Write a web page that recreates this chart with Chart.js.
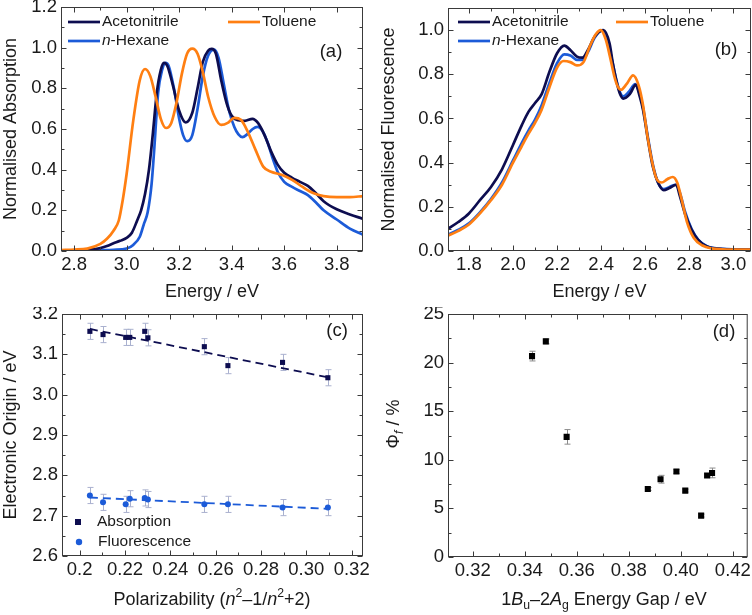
<!DOCTYPE html>
<html>
<head>
<meta charset="utf-8">
<title>Absorption / fluorescence panels</title>
<script src="https://cdn.jsdelivr.net/npm/chart.js@4.4.1/dist/chart.umd.min.js"></script>
<style>
    html, body { margin: 0; padding: 0; background: #ffffff; }
    #figure { position: relative; width: 752px; height: 615px; overflow: hidden; }
    #figure canvas { position: absolute; }
</style>
</head>
<body>
<div id="figure">
    <canvas id="chartA" width="376" height="307" style="left:0;top:0"></canvas>
    <canvas id="chartB" width="376" height="307" style="left:376px;top:0"></canvas>
    <canvas id="chartC" width="376" height="308" style="left:0;top:307px"></canvas>
    <canvas id="chartD" width="376" height="308" style="left:376px;top:307px"></canvas>
</div>
<script>
// ==============================
//  DATA
// ==============================

// (a) normalised absorption
const acnAbsE = [2.75, 2.8, 2.85, 2.9, 2.925, 2.95, 2.975, 3.0, 3.02, 3.04, 3.055, 3.07, 3.085, 3.1, 3.115, 3.13, 3.142, 3.155, 3.175, 3.2, 3.225, 3.25, 3.27, 3.29, 3.31, 3.324, 3.34, 3.36, 3.38, 3.4, 3.425, 3.45, 3.479, 3.5, 3.525, 3.55, 3.575, 3.6, 3.63, 3.66, 3.69, 3.72, 3.75, 3.8, 3.85, 3.9];
const acnAbs = [0.0, 0.002, 0.006, 0.015, 0.025, 0.038, 0.05, 0.065, 0.09, 0.15, 0.2, 0.28, 0.4, 0.58, 0.78, 0.89, 0.925, 0.91, 0.82, 0.69, 0.632, 0.68, 0.8, 0.93, 0.985, 0.994, 0.97, 0.84, 0.73, 0.665, 0.643, 0.64, 0.65, 0.63, 0.57, 0.49, 0.425, 0.385, 0.36, 0.34, 0.32, 0.285, 0.245, 0.205, 0.18, 0.158];

const hexAbsE = [2.75, 2.85, 2.9, 2.95, 3.0, 3.025, 3.05, 3.065, 3.08, 3.095, 3.105, 3.12, 3.135, 3.148, 3.16, 3.18, 3.2, 3.215, 3.231, 3.25, 3.27, 3.29, 3.31, 3.333, 3.35, 3.37, 3.39, 3.41, 3.425, 3.441, 3.46, 3.48, 3.498, 3.515, 3.535, 3.555, 3.575, 3.6, 3.63, 3.66, 3.69, 3.72, 3.75, 3.8, 3.85, 3.9];
const hexAbs = [0.0, 0.002, 0.004, 0.006, 0.012, 0.03, 0.07, 0.13, 0.19, 0.33, 0.5, 0.78, 0.89, 0.925, 0.91, 0.8, 0.65, 0.57, 0.54, 0.57, 0.7, 0.86, 0.96, 0.99, 0.95, 0.82, 0.69, 0.61, 0.575, 0.56, 0.575, 0.6, 0.61, 0.595, 0.54, 0.46, 0.39, 0.34, 0.315, 0.295, 0.275, 0.24, 0.2, 0.155, 0.11, 0.08];

const tolAbsE = [2.75, 2.8, 2.85, 2.9, 2.925, 2.95, 2.97, 2.985, 3.0, 3.025, 3.05, 3.07, 3.09, 3.11, 3.13, 3.15, 3.17, 3.19, 3.21, 3.23, 3.25, 3.27, 3.29, 3.31, 3.335, 3.36, 3.385, 3.41, 3.435, 3.46, 3.49, 3.52, 3.55, 3.59, 3.63, 3.67, 3.71, 3.75, 3.8, 3.85, 3.9];
const tolAbs = [0.005, 0.007, 0.012, 0.035, 0.06, 0.1, 0.15, 0.25, 0.38, 0.64, 0.84, 0.895, 0.86, 0.76, 0.65, 0.605, 0.63, 0.73, 0.87, 0.97, 0.995, 0.97, 0.88, 0.76, 0.66, 0.62, 0.63, 0.655, 0.645, 0.59, 0.5, 0.415, 0.39, 0.375, 0.35, 0.315, 0.285, 0.27, 0.265, 0.265, 0.27];

// (b) normalised fluorescence
const acnFlE = [1.7, 1.75, 1.8, 1.85, 1.9, 1.95, 2.0, 2.04, 2.07, 2.1, 2.13, 2.165, 2.2, 2.233, 2.26, 2.29, 2.315, 2.34, 2.37, 2.41, 2.438, 2.453, 2.468, 2.484, 2.5, 2.53, 2.557, 2.575, 2.59, 2.613, 2.635, 2.658, 2.684, 2.71, 2.74, 2.757, 2.78, 2.81, 2.84, 2.88, 2.95, 3.1];
const acnFl = [0.097, 0.13, 0.17, 0.23, 0.29, 0.37, 0.48, 0.57, 0.63, 0.67, 0.71, 0.81, 0.895, 0.93, 0.91, 0.88, 0.875, 0.91, 0.97, 1.0, 0.94, 0.85, 0.775, 0.715, 0.69, 0.71, 0.752, 0.7, 0.64, 0.5, 0.38, 0.31, 0.275, 0.285, 0.3, 0.25, 0.17, 0.097, 0.05, 0.02, 0.009, 0.006];

const hexFlE = [1.7, 1.75, 1.8, 1.85, 1.9, 1.95, 2.0, 2.04, 2.07, 2.1, 2.13, 2.165, 2.2, 2.233, 2.26, 2.29, 2.315, 2.34, 2.37, 2.405, 2.43, 2.45, 2.47, 2.485, 2.5, 2.525, 2.555, 2.575, 2.59, 2.613, 2.635, 2.658, 2.684, 2.71, 2.74, 2.76, 2.78, 2.81, 2.84, 2.88, 2.95, 3.1];
const hexFl = [0.072, 0.095, 0.125, 0.175, 0.235, 0.31, 0.41, 0.49, 0.545, 0.595, 0.66, 0.76, 0.85, 0.89, 0.885, 0.865, 0.865, 0.9, 0.965, 1.0, 0.95, 0.86, 0.77, 0.72, 0.7, 0.72, 0.755, 0.71, 0.65, 0.51, 0.39, 0.31, 0.28, 0.29, 0.3, 0.255, 0.18, 0.1, 0.052, 0.022, 0.01, 0.007];

const tolFlE = [1.7, 1.75, 1.8, 1.85, 1.9, 1.95, 2.0, 2.04, 2.07, 2.1, 2.13, 2.165, 2.2, 2.23, 2.26, 2.29, 2.32, 2.35, 2.375, 2.398, 2.42, 2.44, 2.46, 2.475, 2.49, 2.515, 2.545, 2.57, 2.59, 2.61, 2.63, 2.65, 2.675, 2.7, 2.725, 2.745, 2.765, 2.79, 2.82, 2.86, 2.9, 2.95, 3.1];
const tolFl = [0.067, 0.09, 0.12, 0.17, 0.23, 0.3, 0.4, 0.475, 0.53, 0.58, 0.64, 0.74, 0.83, 0.86, 0.855, 0.84, 0.855, 0.93, 0.98, 1.0, 0.96, 0.88, 0.79, 0.745, 0.73, 0.755, 0.795, 0.75, 0.66, 0.52, 0.41, 0.33, 0.31, 0.325, 0.335, 0.31, 0.235, 0.13, 0.06, 0.025, 0.012, 0.008, 0.006];

// (c) electronic origin versus solvent polarizability
const polX = [0.2045, 0.2103, 0.2203, 0.2221, 0.2287, 0.2301, 0.255, 0.2654, 0.2895, 0.3095];
const originAbs = [3.157, 3.149, 3.142, 3.142, 3.157, 3.141, 3.119, 3.072, 3.08, 3.042];
const originFlu = [2.75, 2.733, 2.728, 2.742, 2.744, 2.74, 2.728, 2.728, 2.72, 2.72];
const originAbsErr = [0.02, 0.02, 0.02, 0.02, 0.02, 0.02, 0.02, 0.02, 0.02, 0.02];
const originFluErr = [0.02, 0.02, 0.02, 0.02, 0.02, 0.02, 0.02, 0.02, 0.02, 0.02];
const fitX = [0.2045, 0.3095];
const fitAbs = [3.163, 3.043];
const fitFlu = [2.745, 2.717];

// (d) fluorescence quantum yield versus 1Bu-2Ag gap
const gapX = [0.3428, 0.3481, 0.3561, 0.3873, 0.3922, 0.3983, 0.4017, 0.4078, 0.4101, 0.412];
const phiF = [20.67, 22.18, 12.36, 7.0, 8.0, 8.79, 6.83, 4.26, 8.38, 8.65];
const phiErr = [0.5, 0.25, 0.75, 0.15, 0.4, 0.2, 0.15, 0.15, 0.15, 0.5];

// tick values and labels
const xTicksA = [2.8, 3.0, 3.2, 3.4, 3.6, 3.8];
const xLabelsA = ["2.8", "3.0", "3.2", "3.4", "3.6", "3.8"];
const yTicksA = [0, 0.2, 0.4, 0.6, 0.8, 1.0, 1.2];
const yLabelsA = ["0.0", "0.2", "0.4", "0.6", "0.8", "1.0", "1.2"];
const xTicksB = [1.8, 2.0, 2.2, 2.4, 2.6, 2.8, 3.0];
const xLabelsB = ["1.8", "2.0", "2.2", "2.4", "2.6", "2.8", "3.0"];
const yTicksB = [0, 0.2, 0.4, 0.6, 0.8, 1.0];
const yLabelsB = ["0.0", "0.2", "0.4", "0.6", "0.8", "1.0"];
const xTicksC = [0.2, 0.22, 0.24, 0.26, 0.28, 0.3, 0.32];
const xLabelsC = ["0.2", "0.22", "0.24", "0.26", "0.28", "0.30", "0.32"];
const yTicksC = [2.6, 2.7, 2.8, 2.9, 3.0, 3.1, 3.2];
const yLabelsC = ["2.6", "2.7", "2.8", "2.9", "3.0", "3.1", "3.2"];
const xTicksD = [0.32, 0.34, 0.36, 0.38, 0.4, 0.42];
const xLabelsD = ["0.32", "0.34", "0.36", "0.38", "0.40", "0.42"];
const yTicksD = [0, 5, 10, 15, 20, 25];
const yLabelsD = ["0", "5", "10", "15", "20", "25"];

// ==============================
//  STYLE
// ==============================

const FONT = "'Liberation Sans', Arial, Helvetica, sans-serif";
const INK = "#1a1a1a";
const FRAME = "#3a3a3a";
const NAVY = "#0d0d50";
const BLUE = "#1c5bd8";
const ORANGE = "#ff7f12";

// ==============================
//  HELPERS
// ==============================

function pts(xs, ys) {
    return xs.map((x, i) => ({ x: x, y: ys[i] }));
}

// draws a run list (italic / sub / sup pieces) centred or left-aligned
function drawRuns(ctx, runs, x, y, size, align, rotate) {
    ctx.save();
    ctx.translate(x, y);
    if (rotate) ctx.rotate(-Math.PI / 2);
    ctx.fillStyle = INK;
    ctx.textBaseline = "middle";
    ctx.textAlign = "left";
    const fontOf = r => (r.i ? "italic " : "") + ((r.sub || r.sup) ? size * 0.68 : size) + "px " + FONT;
    let total = 0;
    runs.forEach(r => { ctx.font = fontOf(r); total += ctx.measureText(r.t).width; });
    let cx = align === "center" ? -total / 2 : 0;
    runs.forEach(r => {
        ctx.font = fontOf(r);
        const dy = r.sup ? -size * 0.36 : (r.sub ? size * 0.3 : 0);
        ctx.fillText(r.t, cx, dy);
        cx += ctx.measureText(r.t).width;
    });
    ctx.restore();
}

function minorOf(ticks, min, max) {
    const step = ticks[1] - ticks[0];
    const out = [];
    for (let i = -1; i < ticks.length; i++) {
        const v = ticks[0] + (i + 0.5) * step;
        if (v > min + step * 0.05 && v < max - step * 0.05) out.push(v);
    }
    return out;
}

// inward major / minor ticks on all four sides, plus the box
const framePlugin = {
    id: "frame",
    afterDatasetsDraw(chart) {
        const { ctx, chartArea: a, scales } = chart;
        const sx = scales.x, sy = scales.y;
        ctx.save();
        ctx.strokeStyle = FRAME;
        ctx.lineWidth = 1;
        const L = a.left + 0.5, R = a.right - 0.5, T = a.top + 0.5, B = a.bottom - 0.5;
        ctx.strokeRect(L, T, R - L, B - T);
        ctx.beginPath();
        const xt = sx.options.majorTicks, yt = sy.options.majorTicks;
        const mark = (list, len, horiz) => list.forEach(v => {
            if (horiz) {
                const p = Math.round(sx.getPixelForValue(v)) + 0.5;
                ctx.moveTo(p, B); ctx.lineTo(p, B - len);
                ctx.moveTo(p, T); ctx.lineTo(p, T + len);
            } else {
                const p = Math.round(sy.getPixelForValue(v)) + 0.5;
                ctx.moveTo(L, p); ctx.lineTo(L + len, p);
                ctx.moveTo(R, p); ctx.lineTo(R - len, p);
            }
        });
        mark(xt, 5, true);
        mark(minorOf(xt, sx.min, sx.max), 3, true);
        mark(yt, 5, false);
        mark(minorOf(yt, sy.min, sy.max), 3, false);
        ctx.stroke();
        ctx.restore();
    }
};

// vertical error bars from dataset.yErr
const errorBarPlugin = {
    id: "errorBars",
    beforeDatasetsDraw(chart) {
        const { ctx, scales } = chart;
        chart.data.datasets.forEach((ds, i) => {
            if (!ds.yErr) return;
            const meta = chart.getDatasetMeta(i);
            ctx.save();
            ctx.strokeStyle = ds.errColor;
            ctx.lineWidth = 1;
            ctx.beginPath();
            meta.data.forEach((pt, j) => {
                const v = ds.data[j].y;
                const top = scales.y.getPixelForValue(v + ds.yErr[j]);
                const bot = scales.y.getPixelForValue(v - ds.yErr[j]);
                const x = Math.round(pt.x) + 0.5;
                ctx.moveTo(x, top); ctx.lineTo(x, bot);
                ctx.moveTo(x - 3, top); ctx.lineTo(x + 3, top);
                ctx.moveTo(x - 3, bot); ctx.lineTo(x + 3, bot);
            });
            ctx.stroke();
            ctx.restore();
        });
    }
};

// panel letter, legend entries and rich-text axis titles
const decorPlugin = {
    id: "decor",
    afterDraw(chart, args, opts) {
        const ctx = chart.ctx;
        if (opts.tag) drawRuns(ctx, [{ t: opts.tag[0] }], opts.tag[1], opts.tag[2], 18.5, "center");
        (opts.legend || []).forEach(item => {
            ctx.save();
            if (item.kind === "line") {
                ctx.strokeStyle = item.color;
                ctx.lineWidth = 2.7;
                ctx.beginPath();
                ctx.moveTo(item.x, item.y);
                ctx.lineTo(item.x + 32, item.y);
                ctx.stroke();
                drawRuns(ctx, item.runs, item.x + 34, item.y, 15.5, "left");
            } else {
                ctx.fillStyle = item.color;
                if (item.kind === "rect") {
                    ctx.fillRect(item.x - 3, item.y - 3, 6, 6);
                } else {
                    ctx.beginPath();
                    ctx.arc(item.x, item.y, 3.2, 0, Math.PI * 2);
                    ctx.fill();
                }
                drawRuns(ctx, item.runs, item.x + 19, item.y, 15.5, "left");
            }
            ctx.restore();
        });
        (opts.titles || []).forEach(t => drawRuns(ctx, t.runs, t.x, t.y, 18, "center", t.rotate));
    }
};

/**
 * Builds a linear axis whose box size is fixed so the plot area lands
 * where it is in the figure.
 */
function makeAxis(dir, min, max, ticks, labels, size, title, titlePad) {
    return {
        type: "linear",
        min: min,
        max: max,
        majorTicks: ticks,
        grid: { display: false, drawTicks: false },
        border: { display: false },
        ticks: {
            color: INK,
            padding: dir === "x" ? 3 : 4,
            font: { family: FONT, size: 18.5 },
            callback: (value, index) => labels[index]
        },
        title: {
            display: !!title,
            text: title || "",
            color: INK,
            font: { family: FONT, size: 18 },
            padding: titlePad || { top: 0, bottom: 4 }
        },
        afterBuildTicks: scale => {
            scale.ticks = ticks.map(v => ({ value: v }));
        },
        afterFit: scale => {
            if (dir === "x") scale.height = size; else scale.width = size;
            scale.paddingLeft = scale.paddingRight = scale.paddingTop = scale.paddingBottom = 0;
        }
    };
}

function makeChart(id, area, w, h, datasets, xAxis, yAxis, decor) {
    return new Chart(document.getElementById(id), {
        type: "scatter",
        data: { datasets: datasets },
        options: {
            responsive: false,
            animation: false,
            events: [],
            layout: { padding: { left: 0, top: area.top, right: w - area.right, bottom: 0 } },
            plugins: {
                legend: { display: false },
                tooltip: { enabled: false },
                decor: decor
            },
            scales: { x: xAxis, y: yAxis }
        },
        plugins: [errorBarPlugin, framePlugin, decorPlugin]
    });
}

function curve(xs, ys, color) {
    return {
        data: pts(xs, ys),
        showLine: true,
        borderColor: color,
        borderWidth: 2.7,
        pointRadius: 0,
        cubicInterpolationMode: "monotone",
        fill: false
    };
}

// ==============================
//  PANELS
// ==============================

const legendSolvents = (x1, x2) => [
    { kind: "line", color: NAVY, x: x1, y: 22, runs: [{ t: "Acetonitrile" }] },
    { kind: "line", color: BLUE, x: x1, y: 41, runs: [{ t: "n", i: true }, { t: "-Hexane" }] },
    { kind: "line", color: ORANGE, x: x2, y: 22, runs: [{ t: "Toluene" }] }
];

// (a)
makeChart("chartA", { left: 61, top: 7, right: 363, bottom: 251 }, 376, 307,
    [curve(tolAbsE, tolAbs, ORANGE), curve(acnAbsE, acnAbs, NAVY), curve(hexAbsE, hexAbs, BLUE)],
    makeAxis("x", 2.75, 3.9, xTicksA, xLabelsA, 56, "Energy / eV"),
    makeAxis("y", 0, 1.2, yTicksA, yLabelsA, 61, "Normalised Absorption", { top: 0, bottom: 0 }),
    { tag: ["(a)", 331, 52], legend: legendSolvents(68, 228) });

// (b)
makeChart("chartB", { left: 72, top: 8, right: 375, bottom: 251 }, 376, 307,
    [curve(tolFlE, tolFl, ORANGE), curve(acnFlE, acnFl, NAVY), curve(hexFlE, hexFl, BLUE)],
    makeAxis("x", 1.705, 3.08, xTicksB, xLabelsB, 56, "Energy / eV"),
    makeAxis("y", 0, 1.1, yTicksB, yLabelsB, 72, "Normalised Fluorescence", { top: 2, bottom: 0 }),
    { tag: ["(b)", 350, 50], legend: legendSolvents(82, 240) });

// (c)
makeChart("chartC", { left: 62, top: 7, right: 363, bottom: 249 }, 376, 308,
    [
        {
            data: pts(polX, originAbs), yErr: originAbsErr, errColor: "#aab1cf",
            pointStyle: "rect", pointRadius: 3.6, backgroundColor: NAVY, borderColor: NAVY, borderWidth: 0
        },
        {
            data: pts(polX, originFlu), yErr: originFluErr, errColor: "#aab1cf",
            pointStyle: "circle", pointRadius: 3, backgroundColor: BLUE, borderColor: BLUE, borderWidth: 0
        },
        {
            data: pts(fitX, fitAbs), showLine: true, pointRadius: 0,
            borderColor: NAVY, borderWidth: 1.8, borderDash: [8, 5]
        },
        {
            data: pts(fitX, fitFlu), showLine: true, pointRadius: 0,
            borderColor: BLUE, borderWidth: 1.8, borderDash: [8, 5]
        }
    ],
    makeAxis("x", 0.1922, 0.325, xTicksC, xLabelsC, 59, ""),
    makeAxis("y", 2.6, 3.2, yTicksC, yLabelsC, 62, "Electronic Origin / eV", { top: 0, bottom: 0 }),
    {
        tag: ["(c)", 337, 24],
        legend: [
            { kind: "rect", color: NAVY, x: 78, y: 215, runs: [{ t: "Absorption" }] },
            { kind: "circle", color: BLUE, x: 79, y: 235, runs: [{ t: "Fluorescence" }] }
        ],
        titles: [{
            x: 212, y: 293,
            runs: [{ t: "Polarizability (" }, { t: "n", i: true }, { t: "2", sup: true }, { t: "–1/" },
                   { t: "n", i: true }, { t: "2", sup: true }, { t: "+2)" }]
        }]
    });

// (d)
makeChart("chartD", { left: 72, top: 7, right: 375, bottom: 250 }, 376, 308,
    [
        {
            data: pts(gapX, phiF), yErr: phiErr, errColor: "#8c8c8c",
            pointStyle: "rect", pointRadius: 4.3, backgroundColor: "#000000", borderColor: "#000000", borderWidth: 0
        }
    ],
    makeAxis("x", 0.3105, 0.4257, xTicksD, xLabelsD, 58, ""),
    makeAxis("y", 0, 25, yTicksD, yLabelsD, 72, ""),
    {
        tag: ["(d)", 348, 25],
        titles: [
            {
                x: 228, y: 293,
                runs: [{ t: "1" }, { t: "B", i: true }, { t: "u", sub: true }, { t: "–2" },
                       { t: "A", i: true }, { t: "g", sub: true }, { t: " Energy Gap / eV" }]
            },
            {
                x: 18, y: 117, rotate: true,
                runs: [{ t: "Φ" }, { t: "f", i: true, sub: true }, { t: " / %" }]
            }
        ]
    });
</script>
</body>
</html>
